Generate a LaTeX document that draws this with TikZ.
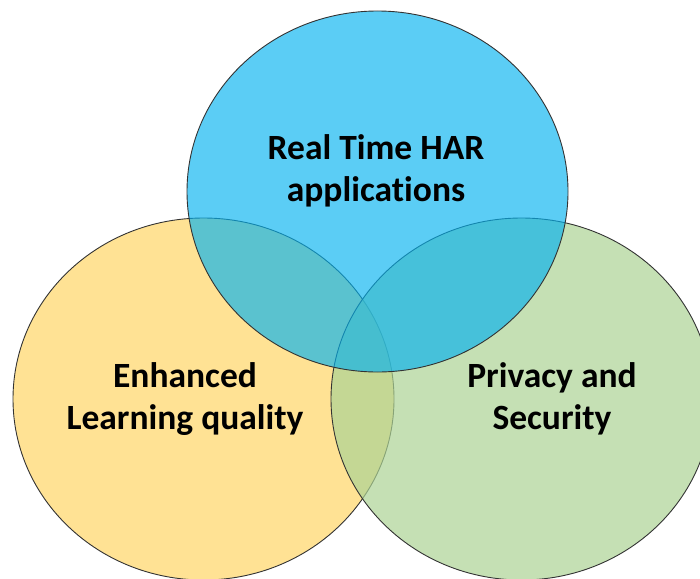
\documentclass[tikz,border=0pt]{standalone}
\usepackage{fontspec}
\setmainfont{Carlito}[Ligatures=NoCommon]
\definecolor{vyellow}{RGB}{255,226,148}
\definecolor{vgreen}{RGB}{172,211,148}
\definecolor{vblue}{RGB}{3,178,240}
\begin{document}
\begin{tikzpicture}[x=1pt,y=-1pt,
  venn/.style={draw=black!80,line width=0.9pt},
  lbl/.style={anchor=base,align=center,font=\fontsize{35.5}{42}\selectfont\bfseries,text=black,inner sep=0pt}]
\useasboundingbox (0,0) rectangle (700,578);
\clip (0,0) rectangle (700,578);
\path[venn,fill=vyellow] (203.5,399) ellipse [x radius=190.5,y radius=181];
\path[venn,fill=vgreen,fill opacity=0.7] (521.5,399) ellipse [x radius=190.5,y radius=181];
\path[venn,fill=vblue,fill opacity=0.65] (377.5,191.5) ellipse [x radius=190.5,y radius=180.5];
\node[lbl] (top) at (376,201) {Real Time HAR\\applications};
\node[lbl] (left) at (185,429) {Enhanced\\Learning quality};
\node[lbl] (right) at (552,429) {Privacy and\\Security};
\end{tikzpicture}
\end{document}
